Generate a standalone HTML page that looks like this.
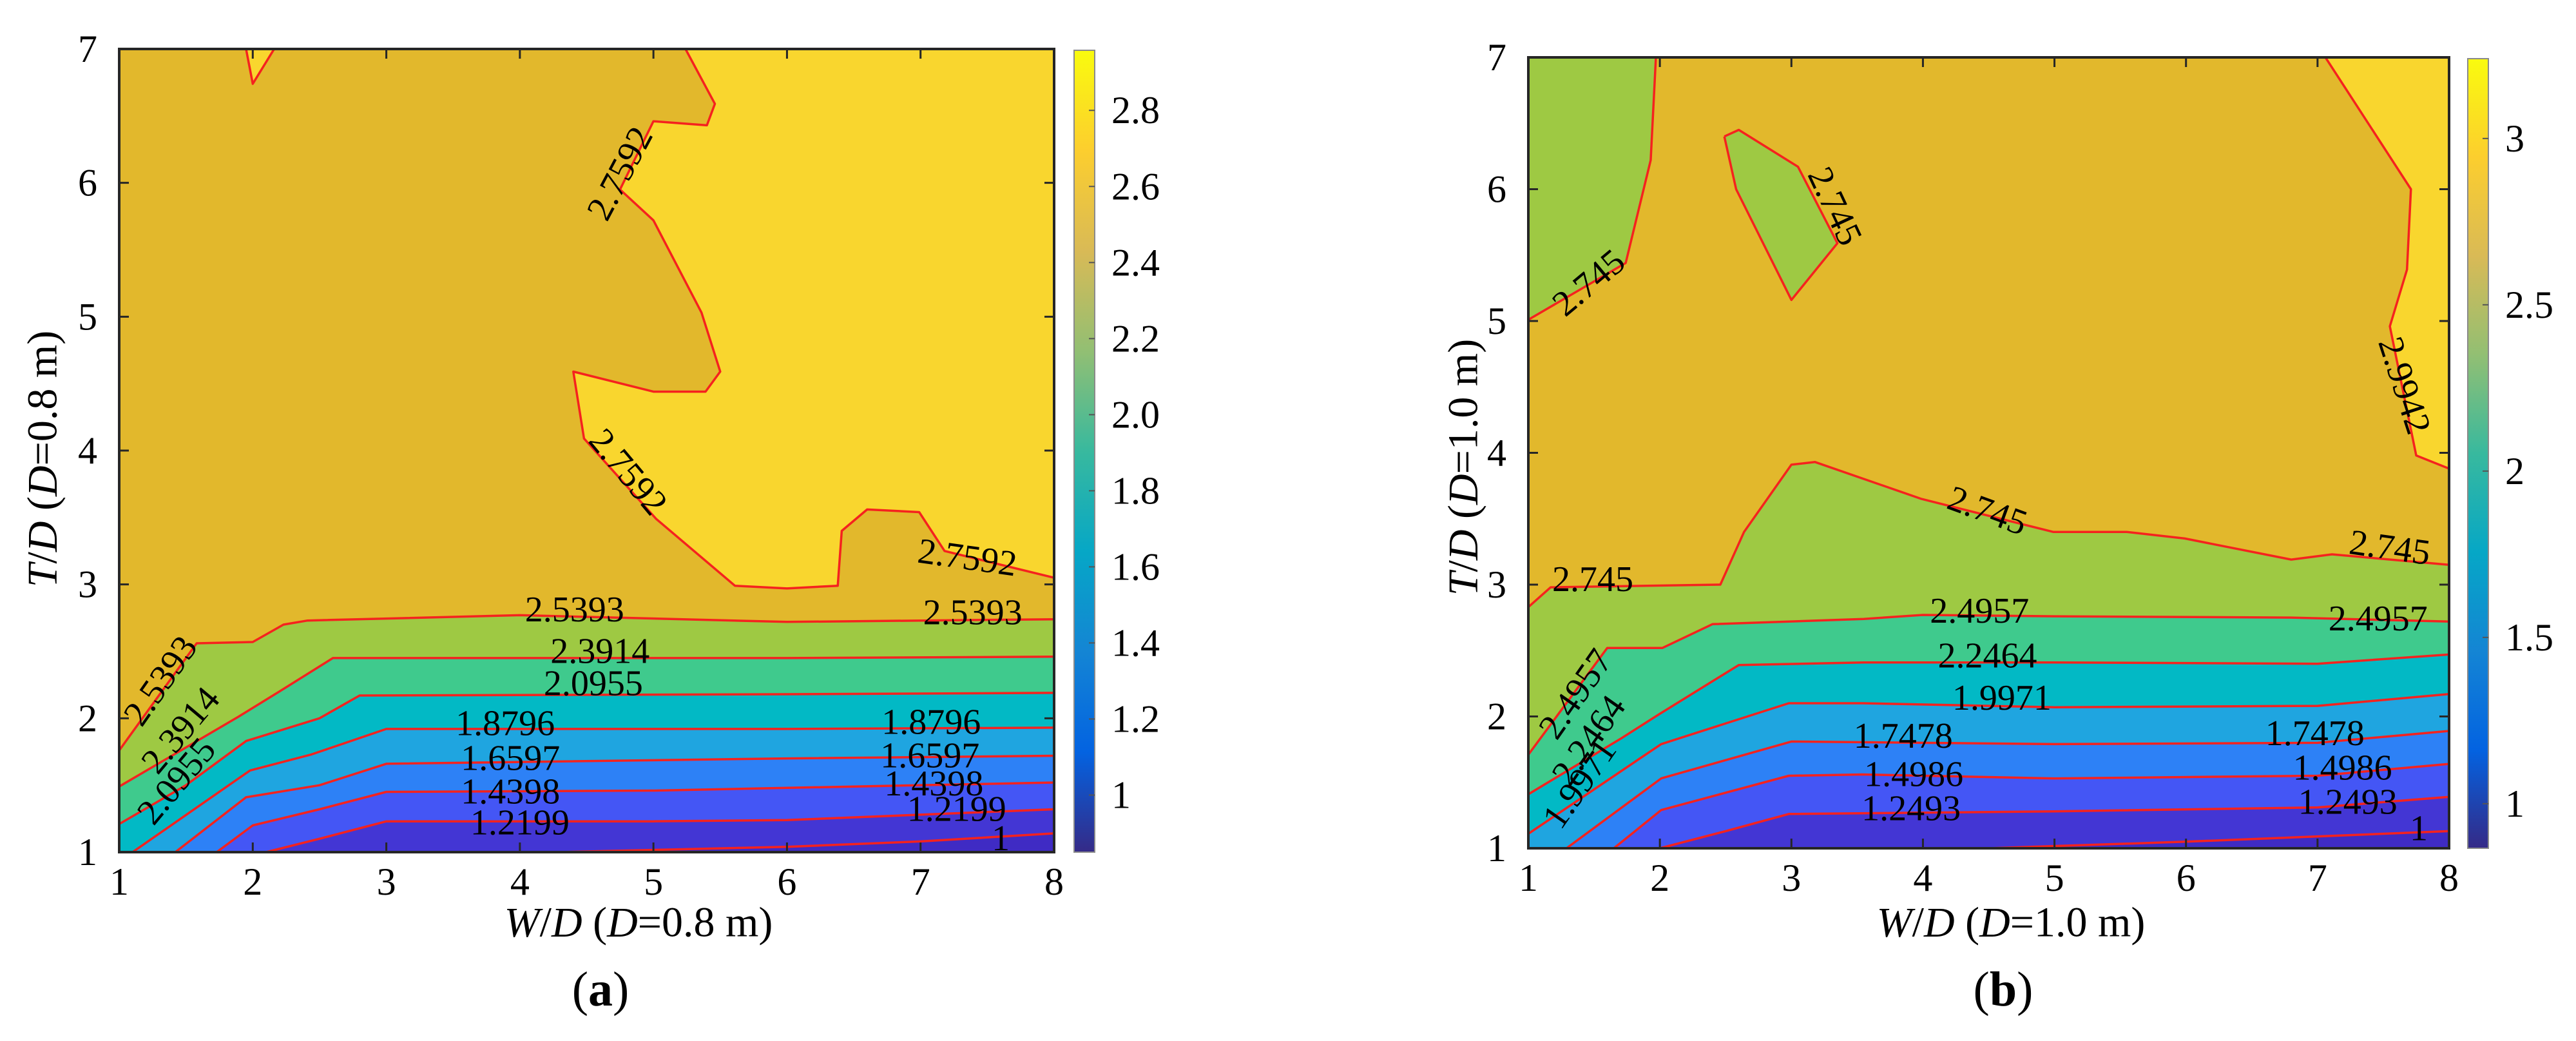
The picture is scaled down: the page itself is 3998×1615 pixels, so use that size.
<!DOCTYPE html>
<html><head><meta charset="utf-8"><style>
html,body{margin:0;padding:0;background:#fff;}
svg{display:block;}
text{font-family:"Liberation Serif",serif;fill:#000;}
</style></head><body>
<svg id="fig" width="3998" height="1615" viewBox="0 0 3998 1615" xmlns="http://www.w3.org/2000/svg">
<defs>
<linearGradient id="parula" x1="0" y1="1" x2="0" y2="0">
<stop offset="0" stop-color="#352A87"/><stop offset="0.125" stop-color="#0363E1"/><stop offset="0.25" stop-color="#1485D4"/><stop offset="0.375" stop-color="#06A7C6"/><stop offset="0.5" stop-color="#38B99E"/><stop offset="0.625" stop-color="#92BF73"/><stop offset="0.75" stop-color="#D9BA56"/><stop offset="0.875" stop-color="#FCCE2E"/><stop offset="1" stop-color="#F9FB0E"/>
</linearGradient>
<clipPath id="clipA"><rect x="185" y="76" width="1451" height="1246"/></clipPath>
<clipPath id="clipB"><rect x="2372" y="89" width="1429" height="1227"/></clipPath>
</defs>
</svg>
<script>
// ---------- data (axis units) ----------
var xTicks = [1,2,3,4,5,6,7,8];
var yTicks = [1,2,3,4,5,6,7];
var bandColors = ["#3f2bc4","#4336d4","#4456f5","#2d81f6","#1fa5e0","#02b9c5","#3fca8d","#9ec943","#e2b82c","#f9d62e"];

var levelsA = [1, 1.2199, 1.4398, 1.6597, 1.8796, 2.0955, 2.3914, 2.5393];
var linesA = [
 [[4.3,1],[6,1.04],[7,1.08],[8,1.14]],
 [[2.1,1],[2.5,1.1],[3,1.23],[5,1.23],[6,1.24],[7,1.28],[8,1.32]],
 [[1.73,1],[2,1.2],[2.5,1.32],[3,1.45],[5,1.46],[6,1.48],[8,1.52]],
 [[1.42,1],[1.95,1.41],[2.5,1.5],[3,1.66],[6,1.70],[8,1.72]],
 [[1.1,1],[1.98,1.61],[2.44,1.73],[3,1.92],[6,1.92],[8,1.93]],
 [[1,1.21],[1.5,1.5],[1.95,1.83],[2.5,2.0],[2.8,2.17],[6,2.18],[8,2.19]],
 [[1,1.49],[1.89,2.01],[2.2,2.2],[2.6,2.45],[6,2.45],[8,2.46]],
 [[1,1.76],[1.58,2.56],[2,2.57],[2.23,2.70],[2.41,2.73],[4,2.77],[6,2.72],[8,2.74]]
];
var topLineA = [[5.24,7],[5.46,6.59],[5.4,6.43],[5.0,6.46],[4.75,5.95],[5,5.72],[5.36,5.03],[5.5,4.59],[5.39,4.44],[5,4.44],[4.4,4.59],[4.48,4.09],[5.02,3.49],[5.61,2.99],[6,2.97],[6.38,2.99],[6.41,3.4],[6.6,3.56],[6.99,3.54],[7.18,3.25],[8,3.05]];
var smallA = [[1.95,7],[2,6.74],[2.16,7]];
var labelsA = [
 ["2.7592",4.75,6.07,-62],["2.7592",4.81,3.84,50],["2.7592",7.35,3.2,8],
 ["2.5393",4.41,2.81,0],["2.5393",7.39,2.79,0],["2.3914",4.6,2.5,0],["2.0955",4.55,2.26,0],
 ["1.8796",3.89,1.96,0],["1.8796",7.08,1.97,0],["1.6597",3.93,1.70,0],["1.6597",7.07,1.72,0],
 ["1.4398",3.93,1.45,0],["1.4398",7.1,1.51,0],["1.2199",4.0,1.22,0],["1.2199",7.27,1.32,0],
 ["1",7.6,1.1,0],["2.5393",1.31,2.28,-55],["2.3914",1.46,1.91,-50],["2.0955",1.43,1.53,-50]
];
var cbTicksA = [1,1.2,1.4,1.6,1.8,2.0,2.2,2.4,2.6,2.8];
var cbTickLabelsA = ["1","1.2","1.4","1.6","1.8","2.0","2.2","2.4","2.6","2.8"];

var levelsB = [1, 1.2493, 1.4986, 1.7478, 1.9971, 2.2464, 2.4957];
var linesB = [
 [[4.5,1],[6,1.05],[7,1.09],[8,1.13]],
 [[2.0,1],[2.5,1.13],[2.98,1.26],[5,1.28],[7,1.31],[8,1.39]],
 [[1.65,1],[2.01,1.29],[2.98,1.55],[3.54,1.56],[5,1.53],[7,1.55],[8,1.64]],
 [[1.29,1],[2.01,1.53],[3.0,1.81],[5,1.79],[7,1.80],[8,1.89]],
 [[1,1.11],[2.01,1.79],[2.98,2.10],[3.54,2.1],[5,2.07],[7,2.08],[8,2.17]],
 [[1,1.41],[1.7,1.83],[2.0,2.02],[2.6,2.39],[3.55,2.41],[5,2.41],[7,2.40],[8,2.47]],
 [[1,1.71],[1.6,2.52],[2.02,2.52],[2.4,2.70],[3.55,2.74],[4,2.77],[5,2.76],[6.8,2.75],[8,2.72]]
];
var lowB = [[1,2.83],[1.17,2.98],[2.46,3.0],[2.64,3.40],[3,3.91],[3.18,3.93],[3.99,3.65],[4.99,3.40],[5.55,3.40],[5.99,3.35],[6.8,3.19],[7.11,3.23],[8,3.15]];
var upLeftB = [[1,5.01],[1.74,5.44],[1.93,6.22],[1.97,7]];
var islandB = [[2.49,6.40],[2.6,6.45],[3.05,6.17],[3.35,5.59],[3.0,5.16],[2.58,6.0]];
var yellowB = [[7.06,7],[7.71,6.0],[7.68,5.39],[7.55,4.96],[7.75,3.98],[8,3.88]];
var labelsB = [
 ["2.745",1.46,5.29,-40],["2.745",3.33,5.87,65],["2.9942",7.66,4.51,72],["2.745",4.49,3.56,20],
 ["2.745",7.55,3.28,8],["2.745",1.49,3.04,0],["2.4957",4.43,2.80,0],["2.4957",7.46,2.74,0],
 ["2.2464",4.49,2.46,0],["1.9971",4.6,2.14,0],["1.7478",3.85,1.85,0],["1.7478",6.98,1.87,0],
 ["1.4986",3.93,1.56,0],["1.4986",7.19,1.61,0],["1.2493",3.91,1.30,0],["1.2493",7.23,1.35,0],
 ["1",7.77,1.15,0],["2.4957",1.36,2.17,-55],["2.2464",1.46,1.82,-55],["1.9971",1.39,1.49,-55]
];
var cbTicksB = [1,1.5,2,2.5,3];
var cbTickLabelsB = ["1","1.5","2","2.5","3"];

// ---------- drawing ----------
var NS = "http://www.w3.org/2000/svg";
var svg = document.getElementById('fig');
function mk(tag, attrs, parent){
  var e = document.createElementNS(NS, tag);
  for (var k in attrs) e.setAttribute(k, attrs[k]);
  (parent||svg).appendChild(e);
  return e;
}
function panel(P){
  var X = function(v){ return P.x0 + (v-1)*(P.x1-P.x0)/7; };
  var Y = function(v){ return P.y1 - (v-1)*(P.y1-P.y0)/6; };
  var pts = function(a){ return a.map(function(p){ return X(p[0]).toFixed(1)+','+Y(p[1]).toFixed(1); }).join(' '); };
  var g = mk('g', {'clip-path':'url(#'+P.clip+')'});
  
  
  var base = mk('rect', {x:P.x0,y:P.y0,width:P.x1-P.x0,height:P.y1-P.y0,fill:bandColors[0]}, g);
  
  
  P.lines.forEach(function(line, i){
    var poly = line.concat([[8,7],[1,7]]);
    if (line[0][1] === 1 && line[0][0] > 1) poly.push([1,1]);
    var e = mk('polygon', {points:pts(poly), fill:bandColors[i+1]}, g);
    
    
  });
  P.extraFills.forEach(function(f){
    var e = mk('polygon', {points:pts(f[0]), fill:f[1]}, g);
    
    
  });
  var lg = mk('g', {'clip-path':'url(#'+P.clip+')', fill:'none', stroke:'#f5221e', 'stroke-width':3.5, 'stroke-linejoin':'round'});
  
  
  P.lines.concat(P.extraLines).forEach(function(line, i){
    var e = mk('polyline', {points:pts(line)}, lg);
    
    
  });
  P.labels.forEach(function(l){
    var t = mk('text', {x:X(l[1]).toFixed(1), y:Y(l[2]).toFixed(1), 'font-size':56, 'text-anchor':'middle', 'dominant-baseline':'central', transform:'rotate('+l[3]+' '+X(l[1]).toFixed(1)+' '+Y(l[2]).toFixed(1)+')'});
    t.textContent = l[0];
    
    
  });
  // axes box
  var box = mk('rect', {x:P.x0,y:P.y0,width:P.x1-P.x0,height:P.y1-P.y0,fill:'none',stroke:'#262626','stroke-width':4});
  
  
  xTicks.forEach(function(v){
    var x = X(v);
    var tk = mk('path', {d:'M'+x+','+P.y1+'v-15M'+x+','+P.y0+'v15', stroke:'#262626','stroke-width':3});
    
    
    var t = mk('text', {x:x, y:P.y1+46, 'font-size':60, 'text-anchor':'middle', 'dominant-baseline':'central'});
    t.textContent = v;
    
    
  });
  yTicks.forEach(function(v){
    var y = Y(v);
    var tk = mk('path', {d:'M'+P.x0+','+y+'h15M'+P.x1+','+y+'h-15', stroke:'#262626','stroke-width':3});
    
    
    var t = mk('text', {x:P.x0-34, y:y, 'font-size':60, 'text-anchor':'end', 'dominant-baseline':'central'});
    t.textContent = v;
    
    
  });
  // colorbar
  var C = P.cb;
  var CY = function(v){ return C.y1 - (v-C.vmin)*(C.y1-C.y0)/(C.vmax-C.vmin); };
  var cb = mk('rect', {x:C.x0,y:C.y0,width:C.x1-C.x0,height:C.y1-C.y0,fill:'url(#parula)',stroke:'#8a8a8a','stroke-width':2});
  
  
  C.ticks.forEach(function(v, i){
    var y = CY(v);
    var tk = mk('path', {d:'M'+C.x1+','+y+'h-9', stroke:'#555','stroke-width':2});
    
    
    var t = mk('text', {x:C.x1+26, y:y, 'font-size':60, 'dominant-baseline':'central'});
    t.textContent = C.labels[i];
    
    
  });
  // titles
  var xt = mk('text', {x:P.xtx, y:1431, 'font-size':66, 'text-anchor':'middle', 'dominant-baseline':'central'});
  xt.innerHTML = '<tspan font-style="italic">W</tspan>/<tspan font-style="italic">D</tspan> (<tspan font-style="italic">D</tspan>='+P.d+' m)';
  
  
  var yt = mk('text', {x:P.ytx, y:P.yty, 'font-size':66, 'text-anchor':'middle', 'dominant-baseline':'central', transform:'rotate(-90 '+P.ytx+' '+P.yty+')'});
  yt.innerHTML = '<tspan font-style="italic">T</tspan>/<tspan font-style="italic">D</tspan> (<tspan font-style="italic">D</tspan>='+P.d+' m)';
  
  
  var cap = mk('text', {x:P.capx, y:1535, 'font-size':76, 'text-anchor':'middle', 'dominant-baseline':'central'});
  cap.innerHTML = '(<tspan font-weight="bold">'+P.cap+'</tspan>)';
  
  
}

panel({id:'panel-a', clip:'clipA', x0:185, x1:1636, y0:76, y1:1322, levels:levelsA, lines:linesA,
  extraFills:[[topLineA.concat([[8,7]]), bandColors[9], 'band-2.7592'],[smallA, bandColors[9], 'band-2.7592-small']],
  extraLines:[topLineA, smallA], labels:labelsA,
  cb:{x0:1667,x1:1699,y0:78,y1:1322,vmin:0.85,vmax:2.958,ticks:cbTicksA,labels:cbTickLabelsA},
  xtx:991, ytx:66, yty:712, capx:932, cap:'a', d:'0.8'});

panel({id:'panel-b', clip:'clipB', x0:2372, x1:3801, y0:89, y1:1316, levels:levelsB, lines:linesB,
  extraFills:[[lowB.concat([[8,7]]).concat(upLeftB.slice().reverse()), bandColors[8], 'band-2.745'],
              [islandB, bandColors[7], 'band-2.745-island'],
              [yellowB.concat([[8,7]]), bandColors[9], 'band-2.9942']],
  extraLines:[lowB, upLeftB, islandB.concat([islandB[0]]), yellowB], labels:labelsB,
  cb:{x0:3830,x1:3862,y0:91,y1:1316,vmin:0.866,vmax:3.24,ticks:cbTicksB,labels:cbTickLabelsB},
  xtx:3121, ytx:2271, yty:725, capx:3109, cap:'b', d:'1.0'});
</script>
</body></html>
